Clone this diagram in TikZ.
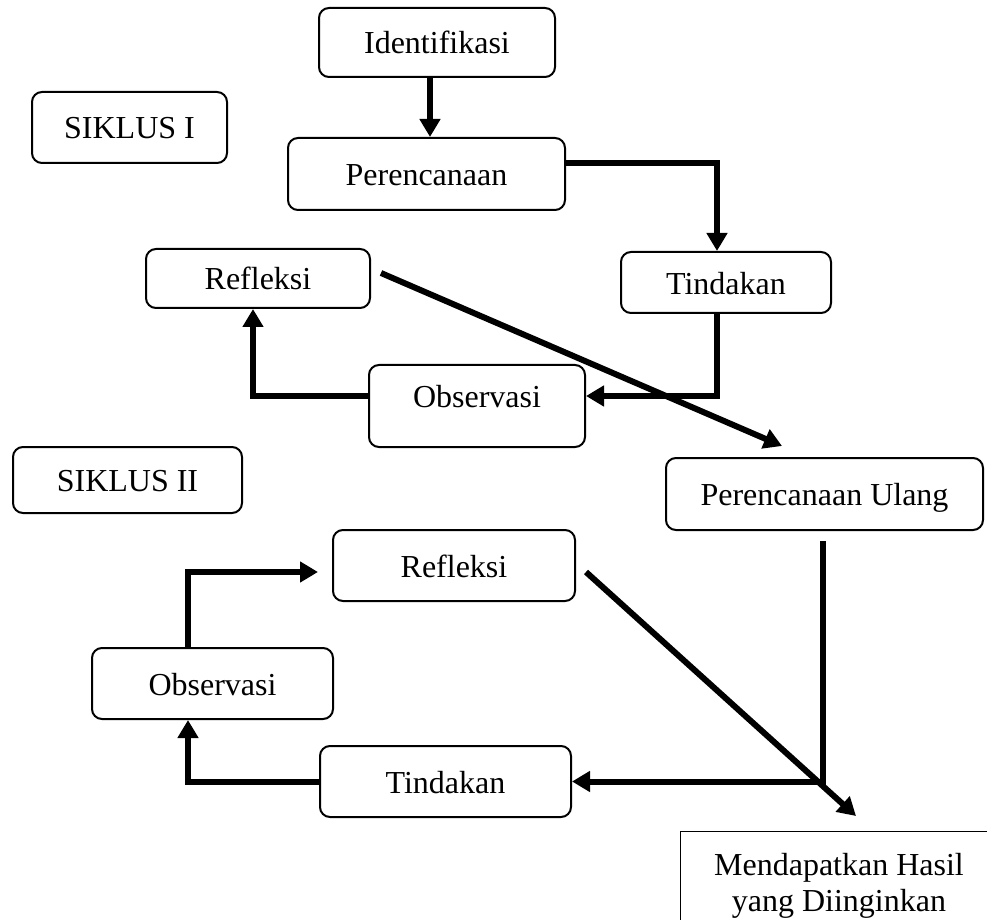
\documentclass[tikz,border=0pt]{standalone}
\usepackage{fontspec}
\setmainfont{Liberation Serif}
\usetikzlibrary{arrows.meta}
\tikzset{
  box/.style={draw, line width=1pt, rounded corners=5pt, inner sep=0pt,
    font=\fontsize{16pt}{18pt}\selectfont, text height=13pt, text depth=1.5pt},
  arr/.style={line width=3pt, -{Triangle[length=9pt,width=10pt]}},
  plain/.style={line width=3pt}
}
\begin{document}
\begin{tikzpicture}[x=0.5pt,y=-0.5pt]
\useasboundingbox (0,0) rectangle (987,920);
\clip (0,0) rectangle (987,920);
% nodes
\node[box, minimum width=118pt, minimum height=34.5pt] (ident) at (437,42.5) {Identifikasi};
\node[box, minimum width=97.5pt, minimum height=35.5pt] (sik1) at (129.5,127.5) {SIKLUS I};
\node[box, minimum width=138.5pt, minimum height=36pt] (peren) at (426.5,174) {Perencanaan};
\node[box, minimum width=105pt, minimum height=30.5pt] (tind1) at (726,282.5) {Tindakan};
\node[box, minimum width=112pt, minimum height=29.5pt] (refl1) at (258,278.5) {Refleksi};
\node[box, minimum width=108pt, minimum height=41pt] (obs1) at (477,406) {\raisebox{5pt}{Observasi}};
\node[box, minimum width=114.5pt, minimum height=33pt] (sik2) at (127.5,480) {SIKLUS II};
\node[box, minimum width=158.5pt, minimum height=36pt] (pu) at (824.5,494) {Perencanaan Ulang};
\node[box, minimum width=121pt, minimum height=35.5pt] (refl2) at (454,565.5) {Refleksi};
\node[box, minimum width=120.5pt, minimum height=35.5pt] (obs2) at (212.5,683.5) {Observasi};
\node[box, minimum width=125.5pt, minimum height=35.5pt] (tind2) at (445.5,781.5) {Tindakan};
\node[draw, line width=0.7pt, inner sep=0pt, minimum width=160pt, minimum height=70pt, anchor=north west] (hasilbox) at (680,831) {};
\node[align=center, inner sep=0pt, font=\fontsize{16pt}{18pt}\selectfont] (hasil) at (839,886) {Mendapatkan Hasil\\yang Diinginkan};
\coordinate (hasiltip) at (856,816);
% connectors
\draw[arr] ([xshift=-3.5pt]ident.south) -- ([xshift=-3.5pt]ident.south |- peren.north);
\draw[arr] ([yshift=5.5pt]peren.east) -| ([xshift=-4.5pt]tind1.north);
\draw[arr] ([xshift=-4.5pt]tind1.south) |- ([yshift=5pt]obs1.east);
\draw[arr] ([yshift=5pt]obs1.west) -| ([xshift=-2.5pt]refl1.south);
\draw[arr] ([xshift=5pt,yshift=2.75pt]refl1.east) -- ([xshift=-21.25pt,yshift=5.5pt]pu.north);
\draw[arr] ([xshift=-0.75pt,yshift=-5pt]pu.south) |- (tind2.east);
\draw[arr] (tind2.west) -| ([xshift=-12.25pt]obs2.south);
\draw[arr] ([xshift=-12.25pt]obs2.north) |- ([xshift=-7pt,yshift=-3.25pt]refl2.west);
\draw[arr] ([xshift=5pt,yshift=-3.25pt]refl2.east) -- (hasiltip);
\end{tikzpicture}
\end{document}
